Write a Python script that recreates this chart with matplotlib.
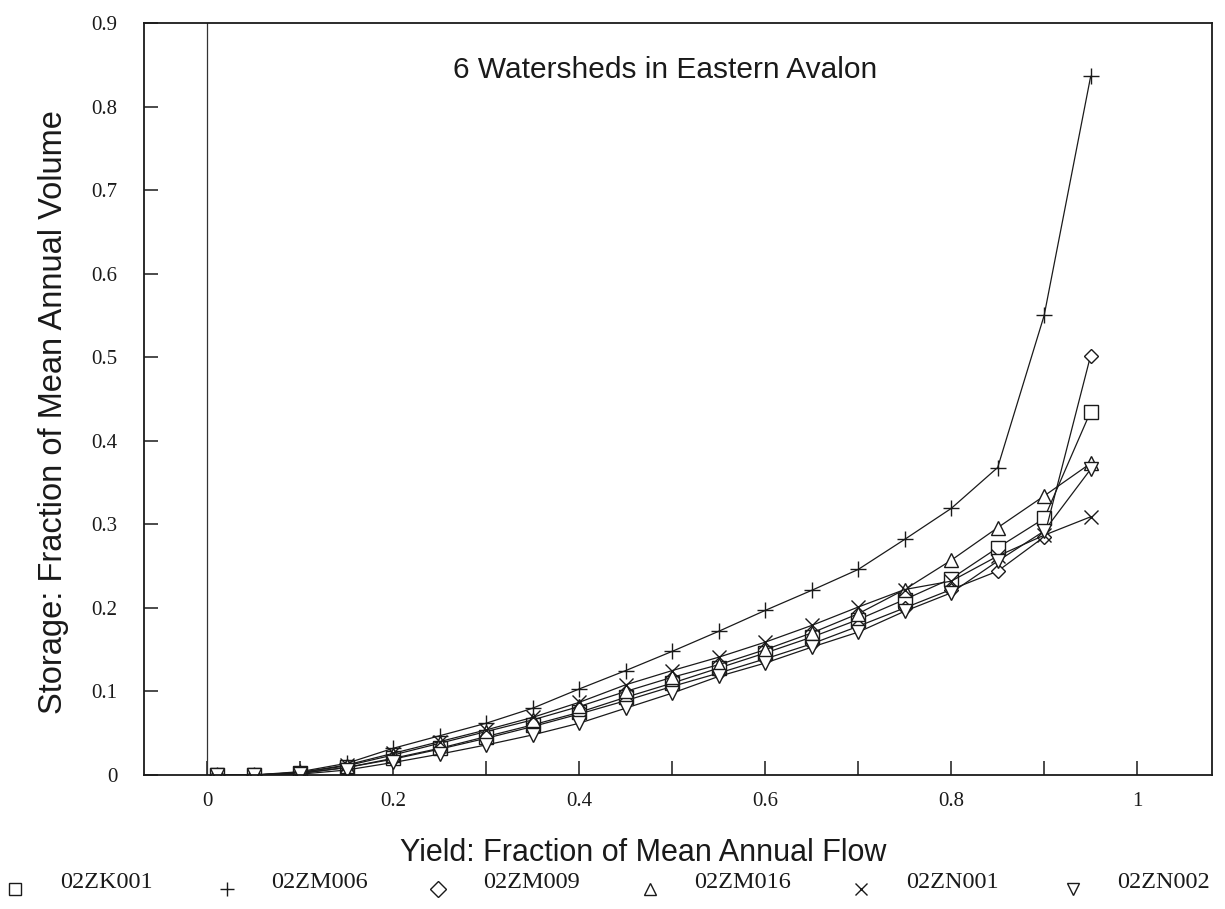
import numpy as np
import matplotlib
matplotlib.use('Agg')
import matplotlib.pyplot as plt
from matplotlib.lines import Line2D

# yield fractions (x) and storage fractions for each watershed
yield_frac = [0.01, 0.05, 0.10, 0.15, 0.20, 0.25, 0.30, 0.35, 0.40, 0.45,
              0.50, 0.55, 0.60, 0.65, 0.70, 0.75, 0.80, 0.85, 0.90, 0.95]

zk001 = [0, 0, 0.002, 0.009, 0.020, 0.032, 0.046, 0.060, 0.075, 0.093,
         0.110, 0.128, 0.146, 0.165, 0.186, 0.210, 0.235, 0.272, 0.307, 0.435]
zm006 = [0, 0, 0.004, 0.014, 0.032, 0.047, 0.062, 0.080, 0.103, 0.125,
         0.148, 0.172, 0.197, 0.221, 0.246, 0.282, 0.319, 0.368, 0.550, 0.836]
zm009 = [0, 0, 0.002, 0.009, 0.019, 0.031, 0.044, 0.058, 0.073, 0.089,
         0.106, 0.122, 0.139, 0.157, 0.178, 0.200, 0.222, 0.244, 0.285, 0.502]
zm016 = [0, 0, 0.003, 0.011, 0.024, 0.038, 0.052, 0.066, 0.082, 0.100,
         0.117, 0.132, 0.150, 0.170, 0.193, 0.222, 0.257, 0.296, 0.334, 0.373]
zn001 = [0, 0, 0.003, 0.012, 0.026, 0.040, 0.054, 0.069, 0.087, 0.108,
         0.125, 0.141, 0.159, 0.179, 0.201, 0.222, 0.232, 0.262, 0.287, 0.309]
zn002 = [0, 0, 0.001, 0.006, 0.015, 0.025, 0.036, 0.048, 0.062, 0.080,
         0.098, 0.118, 0.134, 0.153, 0.171, 0.196, 0.218, 0.256, 0.292, 0.366]

names = ['02ZK001', '02ZM006', '02ZM009', '02ZM016', '02ZN001', '02ZN002']
series = [zk001, zm006, zm009, zm016, zn001, zn002]
markers = ['s', '+', 'D', '^', 'x', 'v']
msizes = [10, 12, 7, 10, 10, 10]

serif = 'Liberation Serif'
sans = 'Liberation Sans'

fig = plt.figure(figsize=(12.25, 9.09), dpi=100)
ax = fig.add_axes([0.1176, 0.1474, 0.8714, 0.8273])

for ys, m, ms in zip(series, markers, msizes):
    ax.plot(yield_frac, ys, color='#1a1a1a', lw=0.9, marker=m, ms=ms,
            mfc='white', mec='#1a1a1a', mew=1.0)

ax.axvline(0, color='#333333', lw=0.9)
ax.set_xlim(-0.068, 1.08)
ax.set_ylim(0, 0.9)

ax.set_xticks(np.arange(0, 1.01, 0.2))
ax.set_xticklabels(['0', '0.2', '0.4', '0.6', '0.8', '1'])
ax.set_xticks(np.arange(0.1, 1.01, 0.2), minor=True)
ax.set_yticks(np.arange(0, 0.91, 0.1))
ax.set_yticklabels(['0', '0.1', '0.2', '0.3', '0.4', '0.5', '0.6', '0.7', '0.8', '0.9'])

ax.tick_params(axis='both', which='both', direction='in', length=10, width=1.1, color='#1a1a1a')
ax.tick_params(axis='x', which='major', pad=12)
ax.tick_params(axis='y', which='major', pad=19)
for lab in ax.get_xticklabels() + ax.get_yticklabels():
    lab.set_fontfamily(serif)
    lab.set_fontsize(15)
    lab.set_color('#1a1a1a')
for sp in ax.spines.values():
    sp.set_linewidth(1.3)
    sp.set_color('#1a1a1a')

ax.text(0.488, 0.937, '6 Watersheds in Eastern Avalon', transform=ax.transAxes,
        ha='center', va='center', fontsize=21.5, family=sans, color='#1a1a1a')
fig.text(0.525, 1 - 853 / 909, 'Yield: Fraction of Mean Annual Flow', ha='center', va='center',
         fontsize=22, family=sans, color='#1a1a1a')
fig.text(0.044, 1 - 412 / 909, 'Storage: Fraction of Mean Annual Volume', ha='center', va='center',
         rotation=90, fontsize=23.5, family=sans, color='#1a1a1a')

# legend row along the bottom
for i, (name, m) in enumerate(zip(names, markers)):
    mx = (15 + i * 211.5) / 1225
    fig.add_artist(Line2D([mx], [1 - 889 / 909], transform=fig.transFigure,
                          marker=m, ms=8 if m != '+' else 10, mfc='white',
                          mec='#1a1a1a', mew=1.0, ls='none'))
    fig.text(mx + 45 / 1225, 1 - 883 / 909, name, ha='left', va='center',
             fontsize=17.5, family=serif, color='#1a1a1a')

fig.savefig('out.png', dpi=100)
